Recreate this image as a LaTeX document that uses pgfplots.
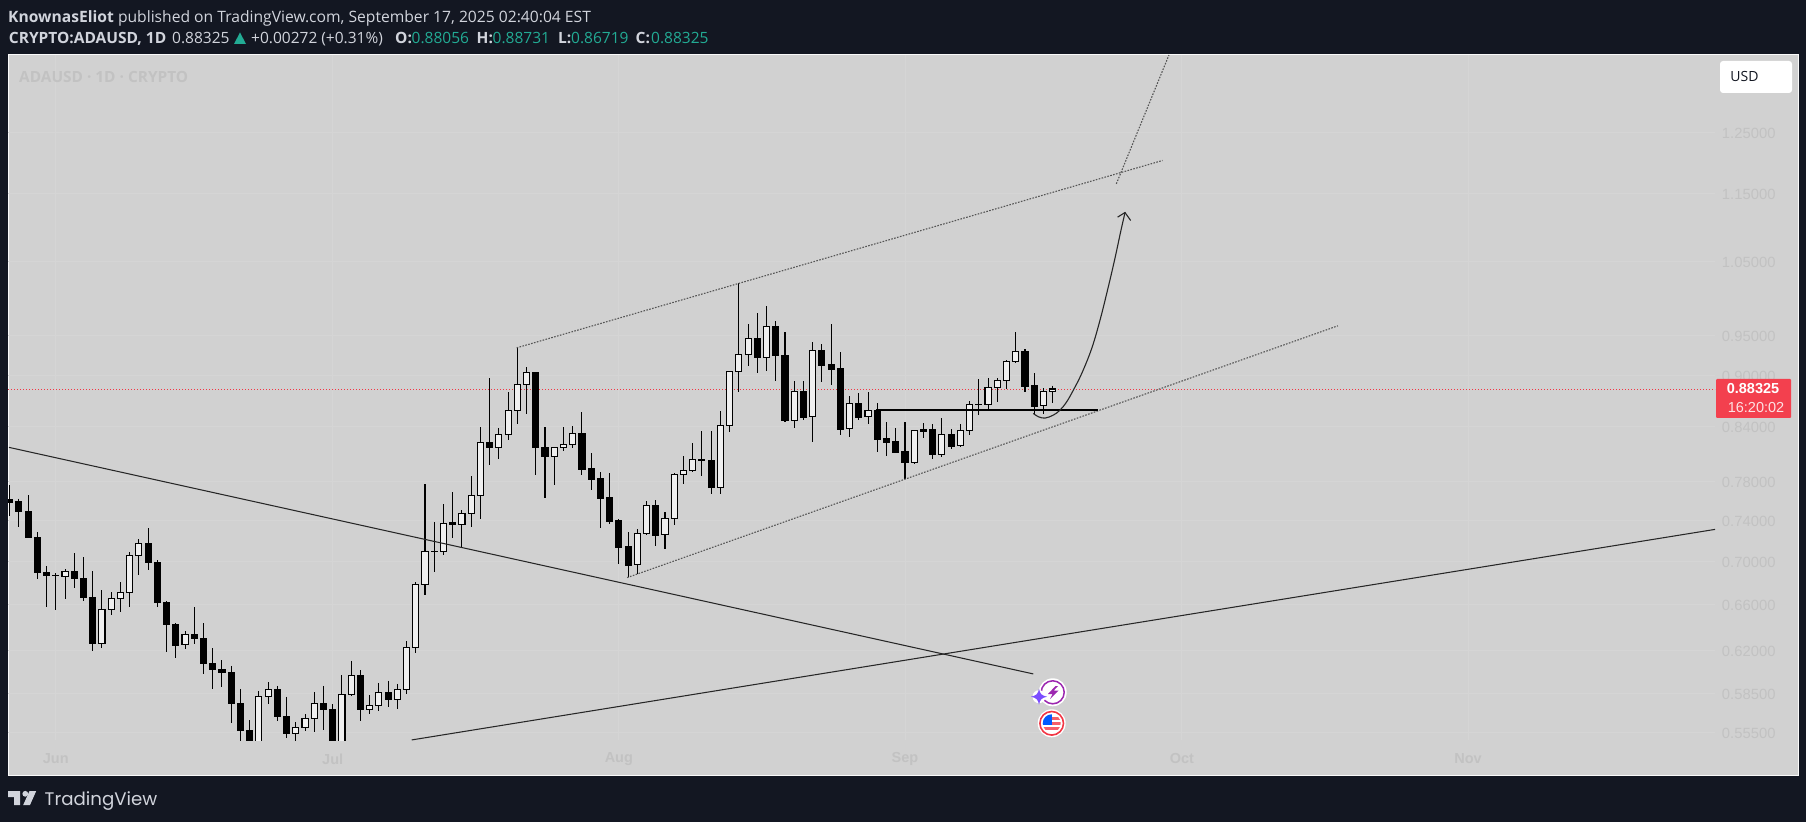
\documentclass[border=0pt]{standalone}
\usepackage{fontspec}
\usepackage{pgfplots}
\usepackage{pgfplotstable}
\pgfplotsset{compat=1.18}
\setmainfont{Open Sans}
\newfontfamily\tickfont{Liberation Sans}
\newfontfamily\dejavu{DejaVu Sans}
\newfontfamily\pop{Poppins}
\definecolor{darkbg}{HTML}{131722}
\definecolor{panel}{HTML}{D1D1D1}
\definecolor{ticktxt}{HTML}{C2C2C2}
\definecolor{gridc}{HTML}{D5D5D5}
\definecolor{head}{HTML}{D1D4DC}
\definecolor{teal}{HTML}{22AB94}
\definecolor{redl}{HTML}{F23645}
\definecolor{upfill}{HTML}{EFEFEF}
\definecolor{dotg}{HTML}{555555}
\definecolor{purp}{HTML}{9C27B0}
\definecolor{viol}{HTML}{7B4DFF}
\pgfplotstableread{
i o h l c
0 0.7611 0.7756 0.7441 0.7581
1 0.7588 0.7618 0.7331 0.7482
2 0.7486 0.7649 0.7218 0.7224
3 0.7228 0.7276 0.6834 0.6890
4 0.6894 0.6950 0.6580 0.6862
5 0.6866 0.6884 0.6551 0.6862
6 0.6853 0.6922 0.6652 0.6903
7 0.6903 0.7075 0.6751 0.6834
8 0.6838 0.7037 0.6634 0.6661
9 0.6664 0.6906 0.6200 0.6259
10 0.6263 0.6730 0.6226 0.6557
11 0.6557 0.6712 0.6510 0.6652
12 0.6655 0.6804 0.6536 0.6705
13 0.6709 0.7082 0.6580 0.7054
14 0.7054 0.7208 0.6871 0.7164
15 0.7168 0.7316 0.6918 0.6984
16 0.6988 0.7006 0.6580 0.6616
17 0.6619 0.6631 0.6192 0.6422
18 0.6425 0.6437 0.6142 0.6248
19 0.6254 0.6365 0.6217 0.6339
20 0.6339 0.6577 0.6260 0.6302
21 0.6305 0.6437 0.6011 0.6092
22 0.6096 0.6223 0.5890 0.6043
23 0.6047 0.6123 0.5906 0.6019
24 0.6022 0.6074 0.5625 0.5772
25 0.5775 0.5888 0.5459 0.5565
26 0.5568 0.5646 0.5200 0.5400
27 0.5420 0.5870 0.5150 0.5827
28 0.5830 0.5942 0.5772 0.5882
29 0.5885 0.5912 0.5641 0.5671
30 0.5674 0.5825 0.5513 0.5543
31 0.5546 0.5631 0.5488 0.5588
32 0.5591 0.5690 0.5565 0.5656
33 0.5659 0.5864 0.5557 0.5775
34 0.5775 0.5912 0.5570 0.5725
35 0.5728 0.5769 0.5350 0.5408
36 0.5420 0.6000 0.5380 0.5846
37 0.5846 0.6115 0.5835 0.5998
38 0.5998 0.6041 0.5641 0.5725
39 0.5728 0.5840 0.5694 0.5760
40 0.5760 0.5936 0.5717 0.5858
41 0.5861 0.5952 0.5749 0.5803
42 0.5806 0.5928 0.5733 0.5882
43 0.5885 0.6280 0.5850 0.6226
44 0.6229 0.6804 0.6183 0.6782
45 0.6782 0.7767 0.6687 0.7088
46 0.7090 0.7375 0.6899 0.7095
47 0.7090 0.7560 0.7056 0.7363
48 0.7375 0.7683 0.7221 0.7351
49 0.7351 0.7499 0.7121 0.7466
50 0.7461 0.7852 0.7329 0.7649
51 0.7645 0.8389 0.7408 0.8217
52 0.8217 0.8963 0.7969 0.8157
53 0.8157 0.8374 0.8034 0.8306
54 0.8302 0.8795 0.8243 0.8580
55 0.8576 0.9338 0.8423 0.8887
56 0.8883 0.9094 0.8538 0.9033
57 0.9033 0.9037 0.7862 0.8157
58 0.8162 0.8389 0.7622 0.8059
59 0.8059 0.8165 0.7756 0.8160
60 0.8157 0.8389 0.8121 0.8195
61 0.8191 0.8400 0.8157 0.8317
62 0.8317 0.8561 0.7862 0.7927
63 0.7934 0.8099 0.7704 0.7820
64 0.7827 0.7895 0.7319 0.7622
65 0.7629 0.7884 0.7358 0.7388
66 0.7395 0.7408 0.6971 0.7133
67 0.7140 0.7279 0.6847 0.6962
68 0.6965 0.7309 0.6878 0.7266
69 0.7262 0.7591 0.7254 0.7547
70 0.7547 0.7601 0.7143 0.7250
71 0.7253 0.7476 0.7114 0.7415
72 0.7411 0.7884 0.7348 0.7870
73 0.7866 0.8063 0.7767 0.7913
74 0.7909 0.8210 0.7900 0.8030
75 0.8034 0.8344 0.7852 0.8015
76 0.8020 0.8344 0.7663 0.7728
77 0.7728 0.8572 0.7663 0.8408
78 0.8404 0.9049 0.8332 0.9043
79 0.9040 1.0188 0.8798 0.9255
80 0.9250 0.9642 0.9110 0.9458
81 0.9458 0.9786 0.9028 0.9213
82 0.9213 0.9880 0.9049 0.9612
83 0.9612 0.9681 0.8927 0.9237
84 0.9242 0.9538 0.8449 0.8461
85 0.8463 0.8927 0.8378 0.8803
86 0.8807 0.8927 0.8469 0.8503
87 0.8506 0.9410 0.8221 0.9305
88 0.9305 0.9385 0.8915 0.9122
89 0.9135 0.9642 0.8879 0.9073
90 0.9086 0.9284 0.8299 0.8366
91 0.8370 0.8748 0.8277 0.8662
92 0.8662 0.8783 0.8469 0.8503
93 0.8506 0.8795 0.8423 0.8580
94 0.8584 0.8666 0.8110 0.8254
95 0.8265 0.8446 0.8067 0.8221
96 0.8229 0.8378 0.8103 0.8110
97 0.8118 0.8446 0.7820 0.8001
98 0.8001 0.8355 0.7980 0.8352
99 0.8366 0.8435 0.8265 0.8344
100 0.8366 0.8423 0.8034 0.8088
101 0.8088 0.8492 0.8056 0.8306
102 0.8310 0.8366 0.8143 0.8176
103 0.8179 0.8423 0.8170 0.8352
104 0.8347 0.8689 0.8299 0.8651
105 0.8648 0.8951 0.8526 0.8654
106 0.8646 0.8963 0.8584 0.8851
107 0.8847 0.8963 0.8678 0.8935
108 0.8931 0.9184 0.8831 0.9168
109 0.9163 0.9538 0.9153 0.9293
110 0.9296 0.9318 0.8795 0.8866
111 0.8875 0.9024 0.8526 0.8630
112 0.8634 0.8843 0.8538 0.8803
113 0.88056 0.88731 0.86719 0.88325
}\candles
\begin{document}
\begin{tikzpicture}[x=1pt,y=1pt]
\useasboundingbox (0,0) rectangle (1806,822);
\fill[darkbg] (0,0) rectangle (1806,822);
\fill[panel] (8,47) rectangle (1798,767);
\draw[white!90!panel,line width=1pt] (8,47) rectangle (1798,767);
\begin{axis}[
  at={(8pt,82pt)},anchor=south west,
  scale only axis,width=1707pt,height=685pt,
  ymode=log,
  xmin=-0.18,xmax=184.76,ymin=0.54955,ymax=1.3873,
  axis line style={draw=none},
  major tick length=0pt,minor tick length=0pt,
  grid=major,grid style={gridc,line width=0.8pt},
  ytick={0.555,0.585,0.62,0.66,0.70,0.74,0.78,0.84,0.90,0.95,1.05,1.15,1.25},
  yticklabels={0.55500,0.58500,0.62000,0.66000,0.70000,0.74000,0.78000,0.84000,0.90000,0.95000,1.05000,1.15000,1.25000},
  yticklabel pos=right,
  yticklabel style={anchor=east,xshift=64pt,yshift=-1pt,text=ticktxt,font=\tickfont\fontsize{14.8}{17}\selectfont},
  xtick={5,35,66,97,127,158},
  xticklabels={Jun,Jul,Aug,Sep,Oct,Nov},
  xticklabel style={anchor=center,yshift=-19pt,text=ticktxt,font=\tickfont\bfseries\fontsize{14.5}{16}\selectfont},
]
% current price line
\addplot[redl,line width=1pt,dash pattern=on 1pt off 2pt] coordinates {(-0.18,0.88325)(184.76,0.88325)};
% candles
\pgfplotsforeachungrouped \rr in {0,...,113}{%
  \pgfplotstablegetelem{\rr}{o}\of\candles\let\vo\pgfplotsretval
  \pgfplotstablegetelem{\rr}{h}\of\candles\let\vh\pgfplotsretval
  \pgfplotstablegetelem{\rr}{l}\of\candles\let\vl\pgfplotsretval
  \pgfplotstablegetelem{\rr}{c}\of\candles\let\vc\pgfplotsretval
  \pgfmathtruncatemacro\isup{\vc>=\vo?1:0}%
  \ifnum\isup=1 \def\bodyc{upfill}\else\def\bodyc{black}\fi
  \pgfmathsetmacro\xa{\rr-0.33}\pgfmathsetmacro\xb{\rr+0.33}%
  \edef\tmp{\noexpand\addplot[black,line width=1.05pt,forget plot] coordinates {(\rr,\vh)(\rr,\vl)};
    \noexpand\addplot[draw=black,fill=\bodyc,line width=1.05pt,forget plot] coordinates {(\xa,\vo)(\xb,\vo)(\xb,\vc)(\xa,\vc)(\xa,\vo)} --cycle;}%
  \tmp
}
% descending and ascending trend lines
\addplot[black!85,line width=1.05pt] coordinates {(-0.07,0.8162)(110.9,0.6009)};
\addplot[black!85,line width=1.05pt] coordinates {(43.56,0.5496)(184.76,0.7306)};
% channel (dotted)
\addplot[dotg,line width=1.1pt,dash pattern=on 1.6pt off 1.4pt] coordinates {(54.93,0.9338)(124.9,1.2029)};
\addplot[dotg,line width=1.1pt,dash pattern=on 1.6pt off 1.4pt] coordinates {(66.9,0.6845)(143.9,0.9620)};
\addplot[dotg,line width=1.1pt,dash pattern=on 1.6pt off 1.4pt] coordinates {(119.9,1.1656)(125.6,1.3873)};
% horizontal support
\addplot[black,line width=2pt] coordinates {(93.9,0.8584)(117.95,0.8584)};
% projected path
\addplot[black!85,line width=1.1pt,smooth,tension=0.6] coordinates {
 (110.9,0.8546)(111.45,0.8507)(112.17,0.8492)(113.07,0.8526)(113.8,0.8584)(114.52,0.8681)(115.24,0.8819)(116.15,0.9020)(117.23,0.9330)(118.13,0.9694)(119.03,1.0141)(119.76,1.0546)(120.37,1.0927)(120.84,1.1212)};
\addplot[black!85,line width=1.1pt] coordinates {(120.04,1.1143)(120.84,1.1212)(121.45,1.1092)};
\end{axis}
% header
\tikzset{hd/.style={anchor=base west,inner sep=0,text=head,font=\fontsize{15.5}{17}\selectfont},
  hv/.style={hd,text=teal}}
\node[hd,font=\fontsize{15.65}{17}\selectfont] at (8,822-23) {\textbf{KnownasEliot} published on TradingView.com, September 17, 2025 02:40:04 EST};
\node[hd] at (8.7,822-44) {\textbf{CRYPTO:ADAUSD, 1D}};
\node[hd] at (172,822-44) {0.88325};
\fill[teal] (234,822-44) -- (246,822-44) -- (240,822-32.5) -- cycle;
\node[hd] at (251,822-44) {+0.00272 (+0.31\%)};
\node[hd] at (395,822-44) {\textbf{O:}};
\node[hv] at (411.5,822-44) {0.88056};
\node[hd] at (476.5,822-44) {\textbf{H:}};
\node[hv] at (492.5,822-44) {0.88731};
\node[hd] at (558,822-44) {\textbf{L:}};
\node[hv] at (571,822-44) {0.86719};
\node[hd] at (635.5,822-44) {\textbf{C:}};
\node[hv] at (651,822-44) {0.88325};
% watermark
\node[anchor=base west,inner sep=0,text=ticktxt,font=\bfseries\fontsize{15.4}{17}\selectfont] at (19,822-82.5) {ADAUSD · 1D · CRYPTO};
% USD button
\fill[white,rounded corners=3pt] (1720,822-61) rectangle (1792,822-93);
\node[anchor=center,text=darkbg,inner sep=0,font=\fontsize{14}{16}\selectfont] at (1744.5,822-76.5) {USD};
% price label
\fill[redl!95!white,rounded corners=1pt] (1716,822-379) rectangle (1791,822-418);
\node[anchor=center,text=white,inner sep=0,font=\tickfont\bfseries\fontsize{14.5}{16}\selectfont] at (1753,822-389) {0.88325};
\node[anchor=center,text=white!85!redl,inner sep=0,font=\tickfont\fontsize{14.5}{16}\selectfont] at (1756,822-408) {16:20:02};
% event icons
\fill[white] (1052.7,822-692.3) circle (14);
\draw[purp,line width=1.5pt] (1052.7,822-692.3) circle (11.5);
\fill[purp] (1055.5,822-686) -- (1048,822-694) -- (1052.5,822-694) -- (1050,822-699) -- (1058.5,822-690.5) -- (1053.8,822-690.5) -- (1058,822-686) -- cycle;
\fill[white] (1039,822-696.7) circle (6.5);
\fill[viol] (1039,822-688.7) .. controls (1040,822-694) and (1041.5,822-695.5) .. (1047,822-696.7) .. controls (1041.5,822-698) and (1040,822-699.5) .. (1039,822-704.7) .. controls (1038,822-699.5) and (1036.5,822-698) .. (1031,822-696.7) .. controls (1036.5,822-695.5) and (1038,822-694) .. (1039,822-688.7) -- cycle;
\fill[white] (1051.7,822-723.3) circle (14);
\draw[redl,line width=1.6pt] (1051.7,822-723.3) circle (11.8);
\begin{scope}
\clip (1051.7,822-723.3) circle (9);
\fill[white] (1042,822-733) rectangle (1062,822-714);
\fill[redl!80!white] (1051,822-719.5) rectangle (1062,822-717);
\fill[redl!80!white] (1051,822-724.5) rectangle (1062,822-722);
\fill[redl!80!white] (1042,822-729.5) rectangle (1062,822-727);
\fill[blue!65!cyan] (1042,822-714) rectangle (1052,822-724.5);
\end{scope}
% TradingView logo
\fill[head] (8,822-791) -- (20,822-791) -- (20,822-805) -- (14,822-805) -- (14,822-797) -- (8,822-797) -- cycle;
\fill[head] (25.3,822-793.8) circle (2.9);
\fill[head] (29.5,822-791) -- (36.2,822-791) -- (30,822-805) -- (23.2,822-805) -- cycle;
\node[anchor=base west,inner sep=0,text=head,font=\pop\fontsize{18.2}{20}\selectfont] at (44.5,822-805) {TradingView};
\end{tikzpicture}
\end{document}
